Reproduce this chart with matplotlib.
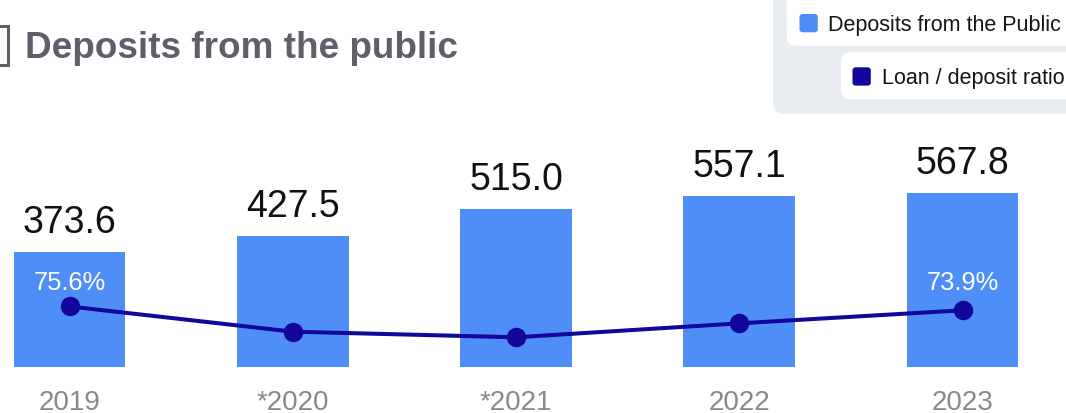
import matplotlib
matplotlib.use("Agg")
import matplotlib.pyplot as plt
from matplotlib.patches import FancyBboxPatch, Rectangle
from matplotlib.transforms import blended_transform_factory

plt.rcParams['font.family'] = ['Liberation Sans', 'DejaVu Sans']

years = ["2019", "*2020", "*2021", "2022", "2023"]
deposits = [373.6, 427.5, 515.0, 557.1, 567.8]          # deposits from the public
loan_deposit_ratio = [75.6, 64.4, 61.9, 68.1, 73.9]     # loan / deposit ratio, %
ratio_labels = {0: "75.6%", 4: "73.9%"}

BAR_COLOR = "#4f8ef7"
LINE_COLOR = "#12069c"
TITLE_COLOR = "#5f5f6a"
TICK_COLOR = "#88888d"

W, H = 1066, 414
fig = plt.figure(figsize=(W / 100, H / 100), dpi=100)

# main plotting area: bars sit on a baseline 46 px above the bottom edge
ax = fig.add_axes([0, 46 / H, 1, 368 / H])
x = list(range(len(years)))
step = 223.25
x0 = 69.5
ax.set_xlim(-x0 / step, (W - x0) / step)
ax.set_ylim(0, 1200)
ax.bar(x, deposits, width=0.5, color=BAR_COLOR, zorder=2)

for xi, v in zip(x, deposits):
    ax.annotate(f"{v:.1f}", (xi, v), xytext=(0, 14.4), textcoords="offset points",
                ha="center", va="baseline", fontsize=27, color="#111111")

# loan / deposit ratio on its own scale
ax2 = ax.twinx()
ax2.set_ylim(48.7, 48.7 + 368 / 2.25)
ax2.plot(x, loan_deposit_ratio, color=LINE_COLOR, lw=2.9, marker="o",
         markersize=13, zorder=3, solid_capstyle="round")
ax2.axis("off")

ax.set_xticks(x)
ax.set_xticklabels(years, fontsize=20, color=TICK_COLOR)
ax.tick_params(axis="x", length=0, pad=16.0)
ax.set_yticks([])
for s in ax.spines.values():
    s.set_visible(False)
ax.patch.set_alpha(0)

trans = blended_transform_factory(ax.transData, ax.transAxes)
for i, lab in ratio_labels.items():
    ax.text(x[i], 0.212, lab, transform=trans, ha="center", va="baseline",
            fontsize=18.4, color="white", zorder=5)

# overlay in pixel coordinates for the title and legend
deco = fig.add_axes([0, 0, 1, 1], zorder=-1)
deco.set_xlim(0, W)
deco.set_ylim(H, 0)
deco.axis("off")

deco.add_patch(Rectangle((-20, 27.3), 27.5, 38.2, fill=False,
                         edgecolor=TITLE_COLOR, lw=2.2))
deco.text(25, 58.3, "Deposits from the public", fontsize=26.6, fontweight="bold",
          color=TITLE_COLOR, ha="left", va="baseline")

deco.add_patch(FancyBboxPatch((773, -40), 340, 155, boxstyle="round,pad=0,rounding_size=12",
                              facecolor="#e9ecf1", edgecolor="none"))
deco.add_patch(FancyBboxPatch((786.7, -30), 320, 76.7, boxstyle="round,pad=0,rounding_size=9",
                              facecolor="white", edgecolor="none"))
deco.add_patch(FancyBboxPatch((841, 53.3), 260, 46.7, boxstyle="round,pad=0,rounding_size=9",
                              facecolor="white", edgecolor="none"))
deco.add_patch(FancyBboxPatch((799.5, 15), 18.3, 18.3, boxstyle="round,pad=0,rounding_size=3",
                              facecolor=BAR_COLOR, edgecolor="none"))
deco.add_patch(FancyBboxPatch((852.5, 68.3), 18.3, 18.3, boxstyle="round,pad=0,rounding_size=3",
                              facecolor=LINE_COLOR, edgecolor="none"))
deco.text(828.3, 30.5, "Deposits from the Public", fontsize=15.5, color="#151515",
          ha="left", va="baseline")
deco.text(881.7, 84, "Loan / deposit ratio", fontsize=15.5, color="#151515",
          ha="left", va="baseline")

fig.savefig("out.png", dpi=100)
